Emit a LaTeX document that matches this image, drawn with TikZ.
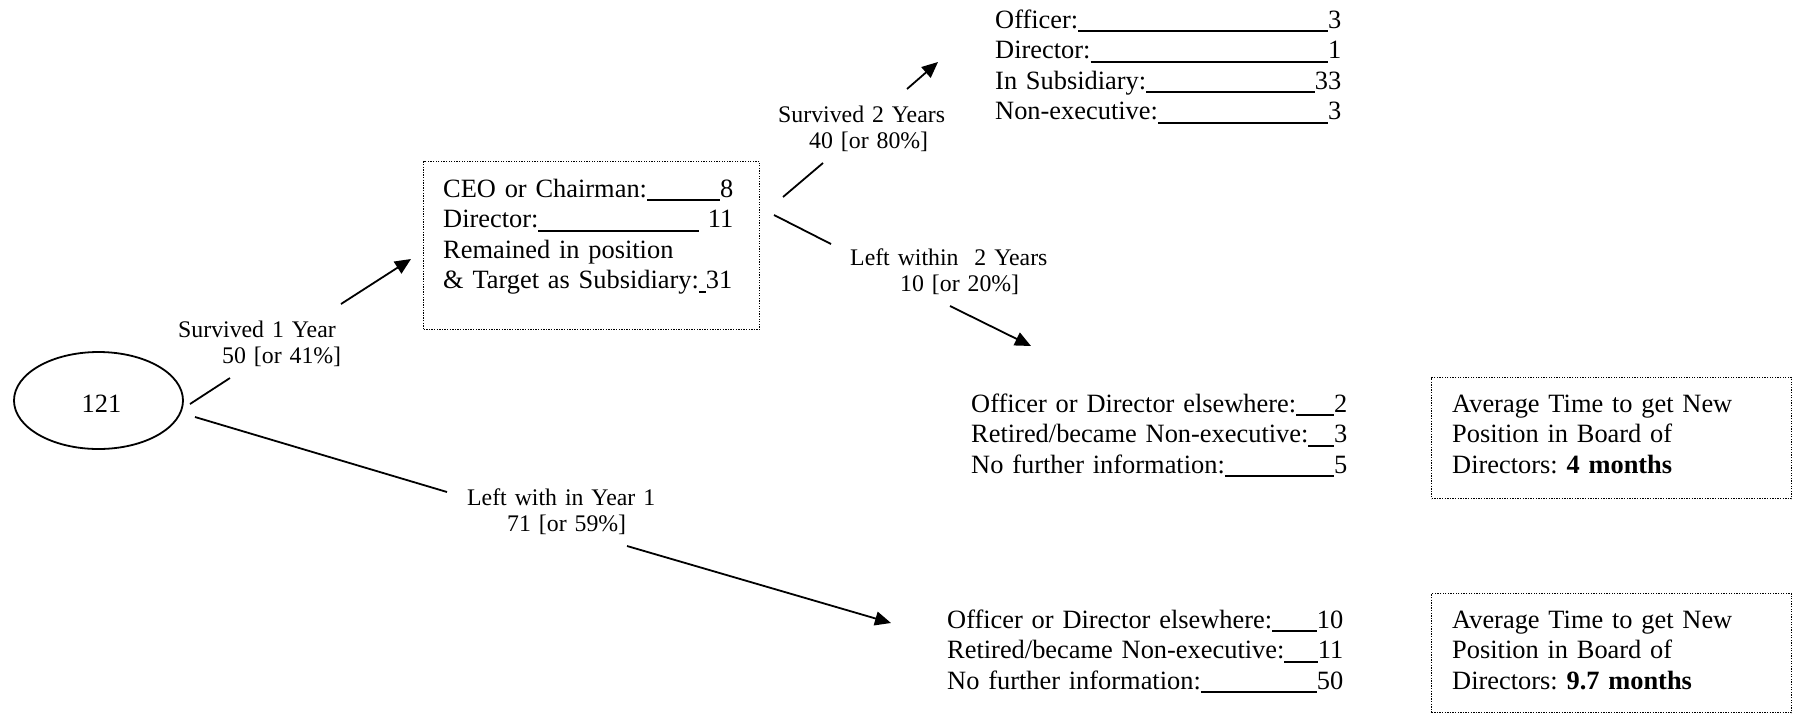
\documentclass[tikz,border=0pt]{standalone}
\usepackage{fontspec}
\setmainfont{Liberation Serif}
\usetikzlibrary{arrows.meta,shapes.geometric}
\newcommand{\ulfill}{\leaders\hrule height -2pt depth 4pt\hfill}
\begin{document}
\frenchspacing
\begin{tikzpicture}[x=1pt,y=-1pt,
  conn/.style={line width=1.8pt},
  arr/.style={conn,-{Triangle[length=16pt,width=14pt]}},
  dotbox/.style={draw,line width=1.3pt,dash pattern=on 1.3pt off 1.3pt,inner sep=0pt,rectangle,anchor=north west},
  body/.style={inner sep=0pt,anchor=base west,align=left,font=\fontsize{26.4}{30.5}\selectfont\frenchspacing},
  lbl/.style={inner sep=0pt,anchor=base west,align=left,text width=220pt,font=\fontsize{23.8}{26.8}\selectfont\frenchspacing},
]
\useasboundingbox (0,0) rectangle (1793,713);
\fill[white] (0,0) rectangle (1793,713);

% root ellipse
\node[draw,ellipse,line width=1.8pt,minimum width=169pt,minimum height=97pt,inner sep=0pt] (root) at (98.5,400.5) {};
\node[body,anchor=base] (rootlbl) at (101.5,412) {121};

% box 1
\node[dotbox,minimum width=336pt,minimum height=168pt] (box1) at (423,161) {};
\node[body,text width=290pt] (box1txt) at (443,197) {CEO or Chairman:\ulfill 8\\
Director:\ulfill\ 11\\
Remained in position\\
\mbox{\& Target as Subsidiary:\rule[-4pt]{7pt}{2pt}31}};

% top right block
\node[body,text width=346pt] (surv2) at (995,28) {Officer:\ulfill 3\\
Director:\ulfill 1\\
In Subsidiary:\ulfill 33\\
Non-executive:\ulfill 3};

% middle block
\node[body,text width=376pt] (left2) at (971,412) {Officer or Director elsewhere:\ulfill 2\\
Retired/became Non-executive:\ulfill 3\\
No further information:\ulfill 5};

% bottom block
\node[body,text width=396pt] (left1) at (947,628) {Officer or Director elsewhere:\ulfill 10\\
Retired/became Non-executive:\ulfill 11\\
No further information:\ulfill 50};

% average time boxes
\node[dotbox,minimum width=360pt,minimum height=121pt] (avg1) at (1431,377) {};
\node[body,text width=330pt] (avg1txt) at (1452,412) {Average Time to get New\\Position in Board of\\Directors: \textbf{4 months}};
\node[dotbox,minimum width=360pt,minimum height=119pt] (avg2) at (1431,593) {};
\node[body,text width=330pt] (avg2txt) at (1452,628) {Average Time to get New\\Position in Board of\\Directors: \textbf{9.7 months}};

% labels
\node[lbl] (lab1) at (178,337) {Survived 1 Year\\\hspace*{44pt}50 [or 41\%]};
\node[lbl] (lab2) at (467,505) {Left with in Year 1\\\hspace*{40pt}71 [or 59\%]};
\node[lbl] (lab3) at (778,122) {Survived 2 Years\\\hspace*{31pt}40 [or 80\%]};
\node[lbl] (lab4) at (850,265) {Left within\ \ 2 Years\\\hspace*{50pt}10 [or 20\%]};

% connector coordinates
\coordinate (a1) at (190,404); \coordinate (a2) at (230,378);
\coordinate (a3) at (341,304); \coordinate (a4) at (411,259);
\coordinate (b1) at (195,417); \coordinate (b2) at (447,492);
\coordinate (b3) at (627,546); \coordinate (b4) at (891,623);
\coordinate (c1) at (783,197); \coordinate (c2) at (823,163);
\coordinate (c3) at (907,89);  \coordinate (c4) at (938,62);
\coordinate (d1) at (774,215); \coordinate (d2) at (831,244);
\coordinate (d3) at (950,306); \coordinate (d4) at (1031,346);

\draw[conn] (a1) -- (a2); \draw[arr] (a3) -- (a4);
\draw[conn] (b1) -- (b2); \draw[arr] (b3) -- (b4);
\draw[conn] (c1) -- (c2); \draw[arr] (c3) -- (c4);
\draw[conn] (d1) -- (d2); \draw[arr] (d3) -- (d4);
\end{tikzpicture}
\end{document}
